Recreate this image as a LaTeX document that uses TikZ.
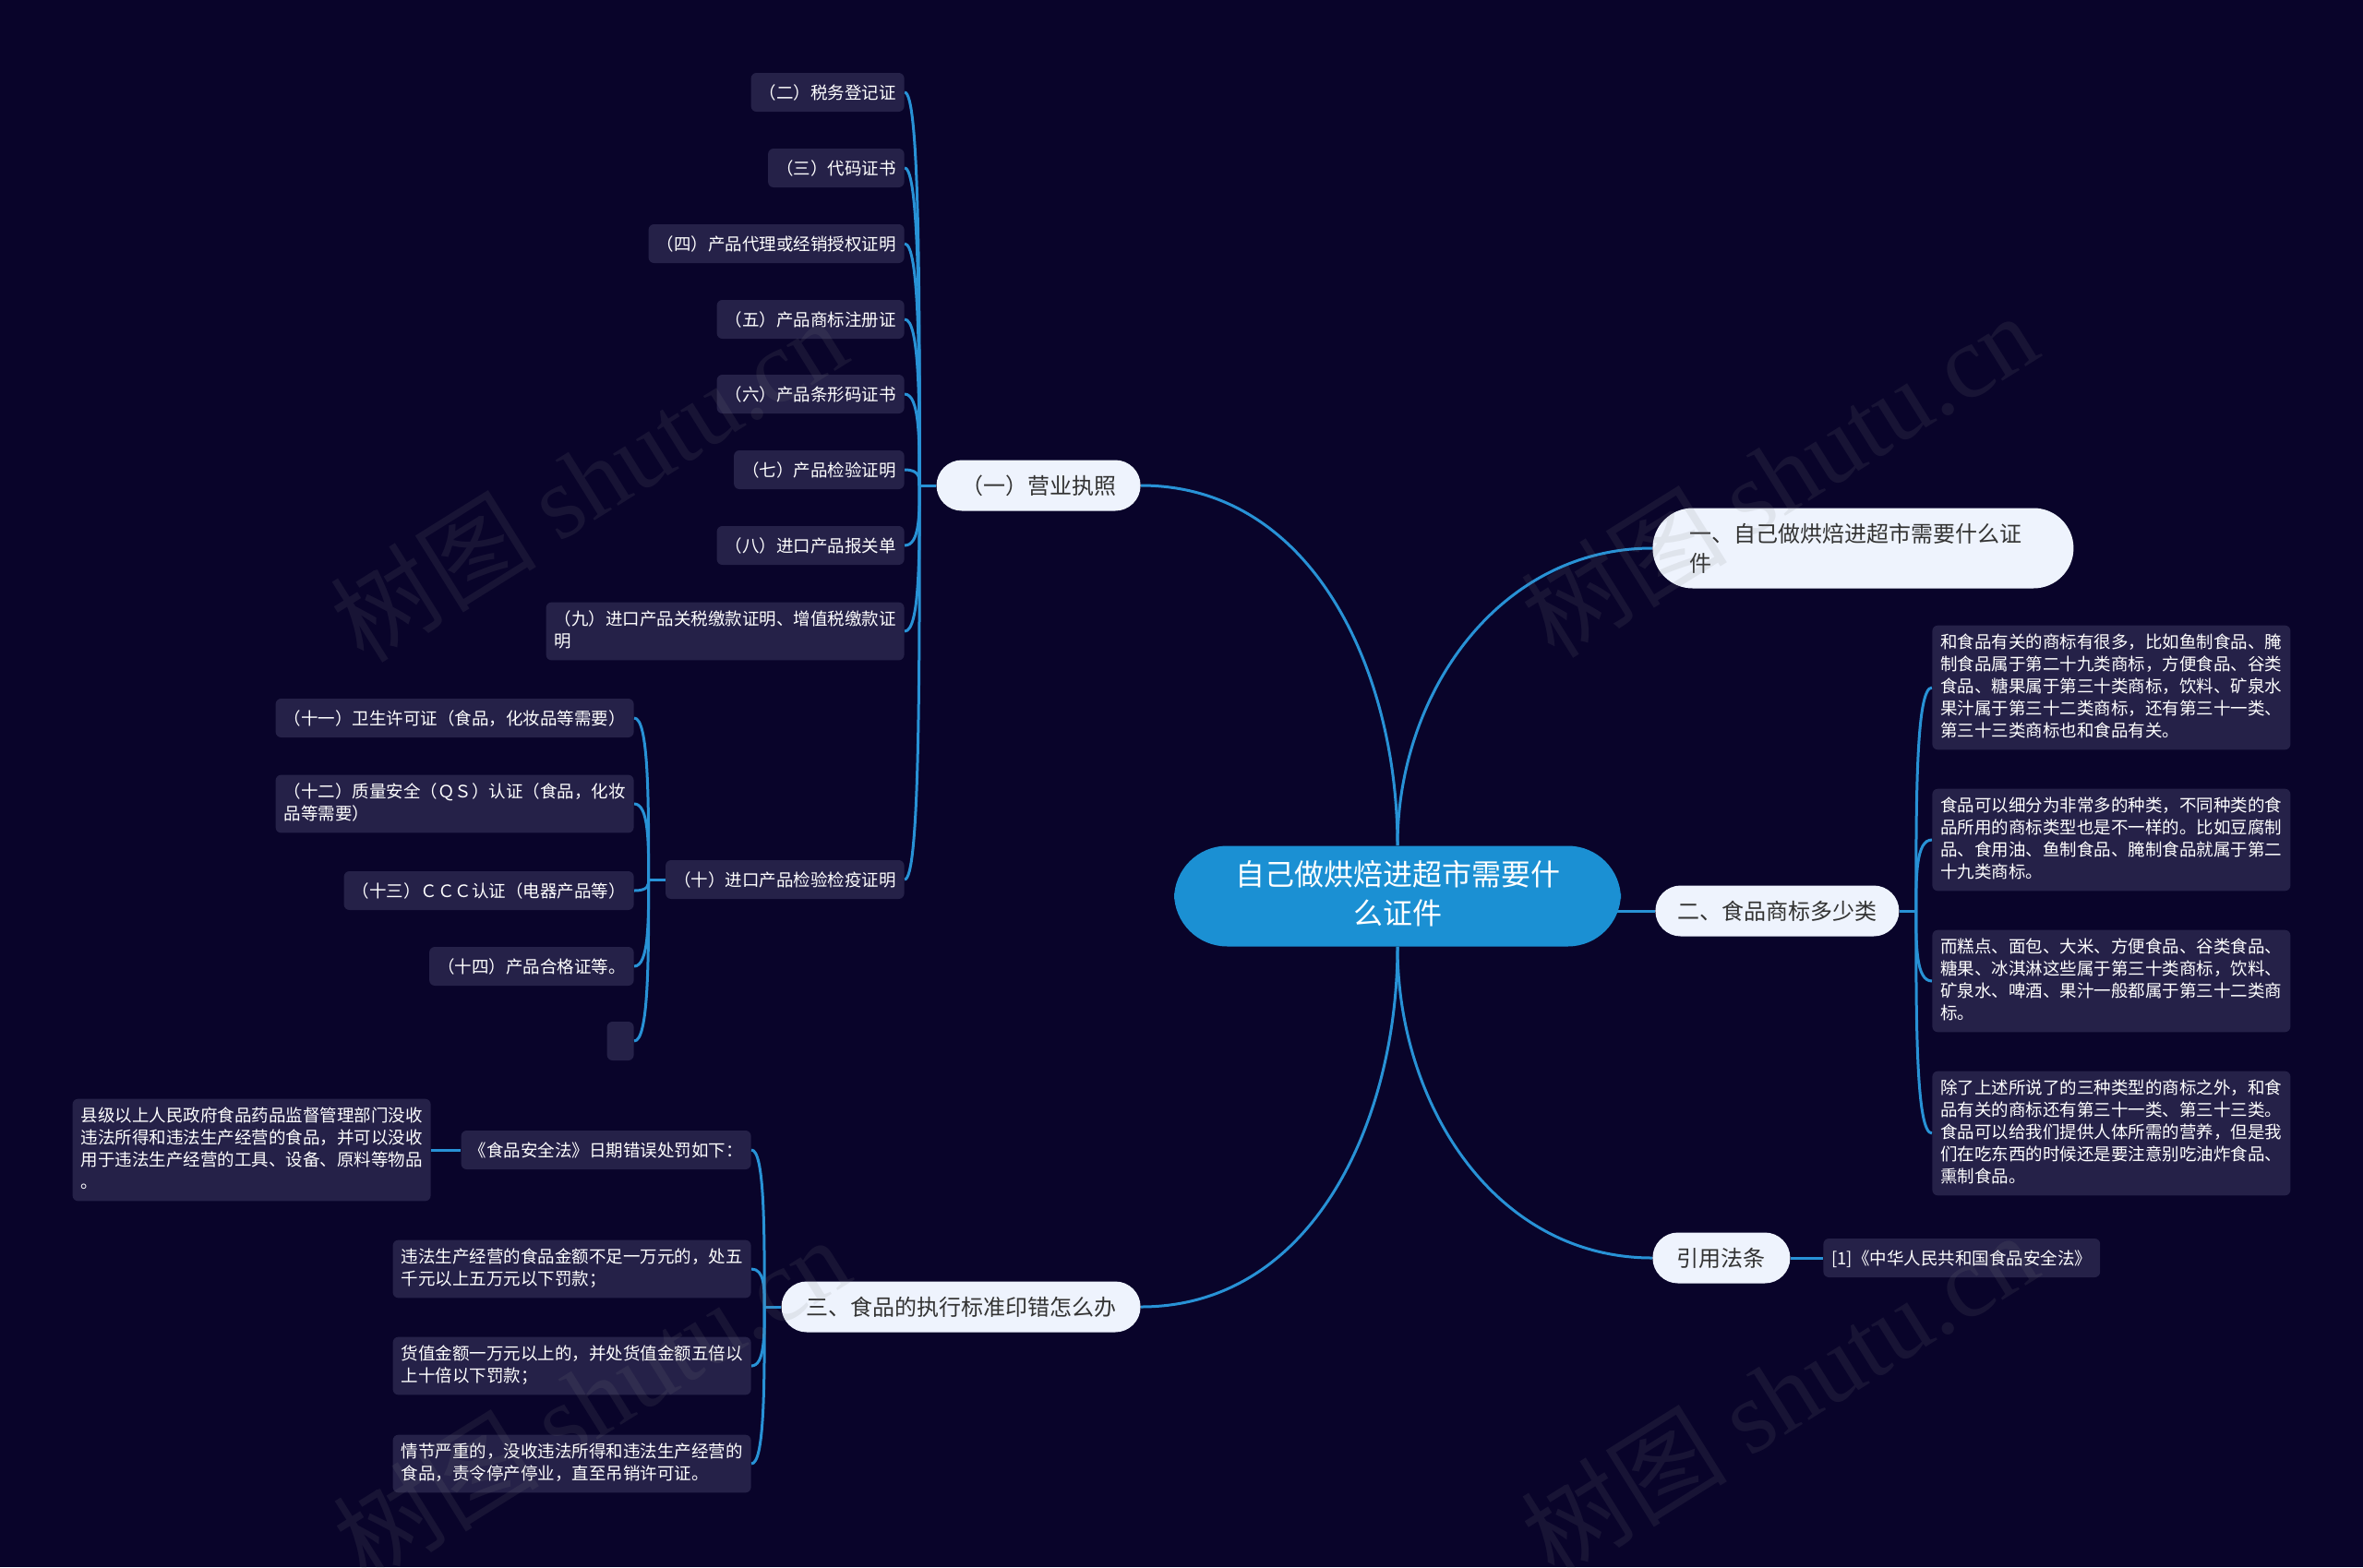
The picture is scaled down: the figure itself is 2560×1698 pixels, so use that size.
\documentclass[tikz,border=0pt]{standalone}
\usepackage{fontspec}
\setmainfont{Noto Sans CJK SC}
\newfontfamily\wmfont{Liberation Serif}
\usetikzlibrary{calc}
\pgfdeclarelayer{bgfill}
\pgfdeclarelayer{links}
\pgfdeclarelayer{marks}
\pgfsetlayers{bgfill,links,main,marks}
\definecolor{bgc}{RGB}{9,4,42}
\definecolor{boxc}{RGB}{37,33,72}
\definecolor{pillc}{RGB}{238,243,253}
\definecolor{pilltext}{RGB}{51,51,51}
\definecolor{rootc}{RGB}{27,144,211}
\definecolor{linec}{RGB}{40,146,214}
\newcommand\kid[2]{\draw[conn] (#1) .. controls ($(#1)!0.5!(#1 |- #2)$) and (#1 |- #2) .. (#2);}
\newcommand\leafstrut{\rule[-2.5pt]{0pt}{12pt}}
\newcommand\pillstrut{\rule[-3.44pt]{0pt}{16pt}}
\newcommand\rootstrut{\rule[-4.42pt]{0pt}{21pt}}
\begin{document}
\begin{tikzpicture}[x=0.5pt,y=-0.5pt,
  conn/.style={draw=linec, line width=1.5pt},
  leaf/.style={fill=boxc, text=white, rounded corners=3pt, inner xsep=4.5pt, inner ysep=4.5pt,
    align=left, font=\fontsize{9.25}{12}\selectfont,
    execute at begin node=\leafstrut, execute at end node=\leafstrut},
  pill/.style={fill=pillc, text=pilltext, rounded corners=13.7pt, inner xsep=13.25pt, inner ysep=5.75pt,
    font=\fontsize{12}{16}\selectfont,
    execute at begin node=\pillstrut, execute at end node=\pillstrut},
  root/.style={fill=rootc, text=white, rounded corners=28.7pt, inner xsep=33pt, inner ysep=7.75pt,
    align=center, font=\fontsize{16}{21}\selectfont,
    execute at begin node=\rootstrut, execute at end node=\rootstrut},
  wm/.style={rotate=32, text=gray, text opacity=0.13, font=\fontsize{56}{60}\selectfont}
]
\useasboundingbox (0,0) rectangle (2560,1698);
\begin{pgfonlayer}{bgfill}
\fill[bgc] (0,0) rectangle (2560,1698);
\end{pgfonlayer}

% root and main branches
\node[root] (c) at (1514,971) {自己做烘焙进超市需要什\\么证件};
\node[pill, anchor=east] (y1) at (1236,526) {（一）营业执照};
\node[pill, anchor=west, text width=188pt, inner xsep=20pt, align=left, rounded corners=21.7pt] (a1) at (1790,594) {一、自己做烘焙进超市需要什么证\\件};
\node[pill, anchor=west, inner xsep=12pt] (a2) at (1793,987) {二、食品商标多少类};
\node[pill, anchor=east] (a3) at (1236,1416) {三、食品的执行标准印错怎么办};
\node[pill, anchor=west] (a4) at (1790,1363) {引用法条};

% children of (一)
\node[leaf, anchor=east] (b2) at (980,100) {（二）税务登记证};
\node[leaf, anchor=east] (b3) at (980,182) {（三）代码证书};
\node[leaf, anchor=east] (b4) at (980,264) {（四）产品代理或经销授权证明};
\node[leaf, anchor=east] (b5) at (980,346) {（五）产品商标注册证};
\node[leaf, anchor=east] (b6) at (980,427) {（六）产品条形码证书};
\node[leaf, anchor=east] (b7) at (980,509) {（七）产品检验证明};
\node[leaf, anchor=east] (b8) at (980,591) {（八）进口产品报关单};
\node[leaf, anchor=east] (b9) at (980,684) {（九）进口产品关税缴款证明、增值税缴款证\\明};
\node[leaf, anchor=east] (b10) at (980,953) {（十）进口产品检验检疫证明};

% children of (十)
\node[leaf, anchor=east] (b11) at (687,778) {（十一）卫生许可证（食品，化妆品等需要）};
\node[leaf, anchor=east] (b12) at (687,871) {（十二）质量安全（ＱＳ）认证（食品，化妆\\品等需要）};
\node[leaf, anchor=east] (b13) at (687,965) {（十三）ＣＣＣ认证（电器产品等）};
\node[leaf, anchor=east] (b14) at (687,1047) {（十四）产品合格证等。};
\node[leaf, anchor=east, minimum width=14.5pt] (b15) at (687,1128) {};

% children of 二
\node[leaf, anchor=west] (r1) at (2093,745) {和食品有关的商标有很多，比如鱼制食品、腌\\制食品属于第二十九类商标，方便食品、谷类\\食品、糖果属于第三十类商标，饮料、矿泉水\\果汁属于第三十二类商标，还有第三十一类、\\第三十三类商标也和食品有关。};
\node[leaf, anchor=west] (r2) at (2093,910) {食品可以细分为非常多的种类，不同种类的食\\品所用的商标类型也是不一样的。比如豆腐制\\品、食用油、鱼制食品、腌制食品就属于第二\\十九类商标。};
\node[leaf, anchor=west] (r3) at (2093,1063) {而糕点、面包、大米、方便食品、谷类食品、\\糖果、冰淇淋这些属于第三十类商标，饮料、\\矿泉水、啤酒、果汁一般都属于第三十二类商\\标。};
\node[leaf, anchor=west] (r4) at (2093,1228) {除了上述所说了的三种类型的商标之外，和食\\品有关的商标还有第三十一类、第三十三类。\\食品可以给我们提供人体所需的营养，但是我\\们在吃东西的时候还是要注意别吃油炸食品、\\熏制食品。};

% children of 三
\node[leaf, anchor=east] (law) at (814,1246) {《食品安全法》日期错误处罚如下：};
\node[leaf, anchor=east] (xj) at (467,1246) {县级以上人民政府食品药品监督管理部门没收\\违法所得和违法生产经营的食品，并可以没收\\用于违法生产经营的工具、设备、原料等物品\\。};
\node[leaf, anchor=east] (v1) at (814,1375) {违法生产经营的食品金额不足一万元的，处五\\千元以上五万元以下罚款；};
\node[leaf, anchor=east] (v2) at (814,1480) {货值金额一万元以上的，并处货值金额五倍以\\上十倍以下罚款；};
\node[leaf, anchor=east] (v3) at (814,1586) {情节严重的，没收违法所得和违法生产经营的\\食品，责令停产停业，直至吊销许可证。};

% child of 引用法条
\node[leaf, anchor=west] (ref) at (1975,1363) {[1]《中华人民共和国食品安全法》};

\coordinate (J1) at ([xshift=-9pt]y1.west);
\coordinate (J10) at ([xshift=-9pt]b10.west);
\coordinate (J3) at ([xshift=-9pt]a3.west);
\coordinate (J2) at ([xshift=9pt]a2.east);

\begin{pgfonlayer}{links}
\draw[conn] (c.north) to[out=90, in=0] (y1.east);
\draw[conn] (c.north) to[out=90, in=180] (a1.west);
\draw[conn] (c.center |- a2.west) -- (a2.west);
\draw[conn] (c.south) to[out=-90, in=0] (a3.east);
\draw[conn] (c.south) to[out=-90, in=180] (a4.west);

\draw[conn] (y1.west) -- (J1);
\kid{J1}{b2.east}
\kid{J1}{b3.east}
\kid{J1}{b4.east}
\kid{J1}{b5.east}
\kid{J1}{b6.east}
\kid{J1}{b7.east}
\kid{J1}{b8.east}
\kid{J1}{b9.east}
\kid{J1}{b10.east}

\draw[conn] (b10.west) -- (J10);
\kid{J10}{b11.east}
\kid{J10}{b12.east}
\kid{J10}{b13.east}
\kid{J10}{b14.east}
\kid{J10}{b15.east}

\draw[conn] (a2.east) -- (J2);
\kid{J2}{r1.west}
\kid{J2}{r2.west}
\kid{J2}{r3.west}
\kid{J2}{r4.west}

\draw[conn] (a3.west) -- (J3);
\kid{J3}{law.east}
\kid{J3}{v1.east}
\kid{J3}{v2.east}
\kid{J3}{v3.east}
\draw[conn] (law.west) -- (xj.east);

\draw[conn] (a4.east) -- (ref.west);
\end{pgfonlayer}

\begin{pgfonlayer}{marks}
\node[wm] (w1) at (637,519) {树图 {\wmfont shutu.cn}};
\node[wm] (w2) at (1927,514) {树图 {\wmfont shutu.cn}};
\node[wm] (w3) at (640,1515) {树图 {\wmfont shutu.cn}};
\node[wm] (w4) at (1927,1510) {树图 {\wmfont shutu.cn}};
\end{pgfonlayer}
\end{tikzpicture}
\end{document}
